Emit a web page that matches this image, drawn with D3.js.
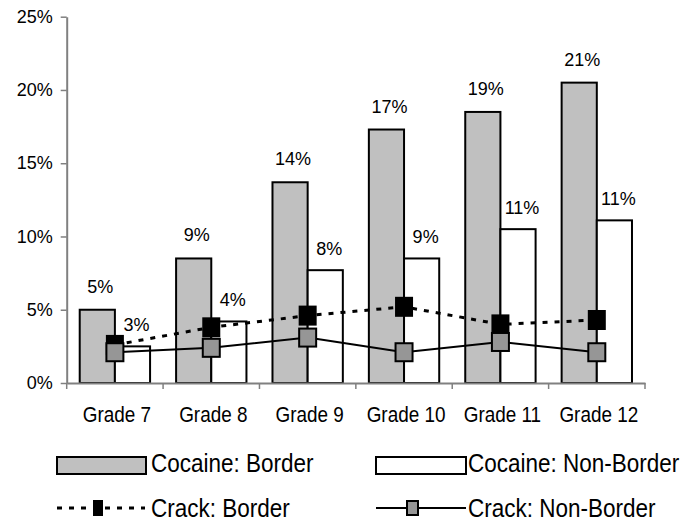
<!DOCTYPE html>
<html>
<head>
<meta charset="utf-8">
<script src="https://cdn.jsdelivr.net/npm/d3@7"></script>
<style>
  body { margin: 0; background: #fff; }
  svg { display: block; font-family: "Liberation Sans", Arial, sans-serif; }
</style>
</head>
<body>
<div id="chart"></div>
<script>

// Data (percent)
var grades = ["Grade 7", "Grade 8", "Grade 9", "Grade 10", "Grade 11", "Grade 12"];
var cocaineBorder = [5.0, 8.5, 13.7, 17.3, 18.5, 20.5];
var cocaineNonBorder = [2.5, 4.2, 7.7, 8.5, 10.5, 11.1];
var crackBorder = [2.6, 3.8, 4.6, 5.2, 4.0, 4.3];
var crackNonBorder = [2.1, 2.4, 3.1, 2.1, 2.8, 2.1];
var cocaineBorderLabels = ["5%", "9%", "14%", "17%", "19%", "21%"];
var cocaineNonBorderLabels = ["3%", "4%", "8%", "9%", "11%", "11%"];
var yTicks = [0, 5, 10, 15, 20, 25];

var width = 684,
    height = 525;

var svg = d3.select("#chart")
    .append("svg")
    .attr("width", width)
    .attr("height", height);

svg.append("rect")
    .attr("width", width)
    .attr("height", height)
    .attr("fill", "#fff");

var x = d3.scaleBand()
    .domain(grades)
    .range([66.7, 645])
    .padding(0);

// two bars inside each grade
var sub = d3.scaleBand()
    .domain(["border", "nonBorder"])
    .range([0, x.bandwidth()])
    .paddingInner(0)
    .paddingOuter(0.37);

var y = d3.scaleLinear()
    .domain([0, 25])
    .range([383, 16.7]);

function cx(i) { return x(grades[i]) + x.bandwidth() / 2; }

/**
 * Bars
 */
var groups = svg.selectAll("g.grade")
    .data(grades)
    .enter()
    .append("g")
    .attr("class", "grade")
    .attr("transform", function(d) { return "translate(" + x(d) + ",0)"; });

groups.append("rect")
    .attr("x", sub("border"))
    .attr("width", sub.bandwidth())
    .attr("y", function(d, i) { return y(cocaineBorder[i]); })
    .attr("height", function(d, i) { return y(0) - y(cocaineBorder[i]); })
    .attr("fill", "#c0c0c0")
    .attr("stroke", "#000")
    .attr("stroke-width", 2);

groups.append("rect")
    .attr("x", sub("nonBorder"))
    .attr("width", sub.bandwidth())
    .attr("y", function(d, i) { return y(cocaineNonBorder[i]); })
    .attr("height", function(d, i) { return y(0) - y(cocaineNonBorder[i]); })
    .attr("fill", "#fff")
    .attr("stroke", "#000")
    .attr("stroke-width", 2);

//bar labels
groups.append("text")
    .attr("x", sub("border") + sub.bandwidth() / 2 + 3)
    .attr("y", function(d, i) { return y(cocaineBorder[i]) - 17; })
    .attr("text-anchor", "middle")
    .attr("font-size", 18)
    .attr("fill", "#000")
    .text(function(d, i) { return cocaineBorderLabels[i]; });

groups.append("text")
    .attr("x", sub("nonBorder") + sub.bandwidth() / 2 + 4)
    .attr("y", function(d, i) { return y(cocaineNonBorder[i]) - 15; })
    .attr("text-anchor", "middle")
    .attr("font-size", 18)
    .attr("fill", "#000")
    .text(function(d, i) { return cocaineNonBorderLabels[i]; });

/**
 * Axes
 */
var yAxis = svg.append("g")
    .attr("transform", "translate(66.7,0)")
    .call(d3.axisLeft(y).tickValues(yTicks).tickSize(6).tickSizeOuter(0).tickPadding(8)
        .tickFormat(function(d) { return d + "%"; }));
yAxis.select(".domain").attr("stroke", "#808080").attr("stroke-width", 2);
yAxis.selectAll(".tick line").attr("stroke", "#808080").attr("stroke-width", 1.5);
yAxis.selectAll(".tick text")
    .attr("font-size", 18)
    .attr("font-family", "Liberation Sans, Arial, sans-serif")
    .attr("fill", "#000");

var xAxis = svg.append("g")
    .attr("transform", "translate(0,383)")
    .call(d3.axisBottom(x).tickSize(0).tickSizeOuter(0));
xAxis.select(".domain").attr("stroke", "#808080").attr("stroke-width", 2);
xAxis.selectAll(".tick text")
    .attr("y", 39)
    .attr("dy", 0)
    .attr("font-size", 22)
    .attr("font-family", "Liberation Sans, Arial, sans-serif")
    .attr("fill", "#000")
    .attr("transform", "translate(2,0) scale(0.86,1)");

// tick marks between categories
var bounds = grades.map(function(g) { return x(g); }).concat([x.range()[1]]);
xAxis.selectAll("line.bound")
    .data(bounds)
    .enter()
    .append("line")
    .attr("class", "bound")
    .attr("x1", function(d) { return d; })
    .attr("x2", function(d) { return d; })
    .attr("y1", 0)
    .attr("y2", 6)
    .attr("stroke", "#808080")
    .attr("stroke-width", 1.5);

/**
 * Crack lines with square markers
 */
var line = d3.line()
    .x(function(d, i) { return cx(i); })
    .y(function(d) { return y(d); });

svg.append("path")
    .datum(crackBorder)
    .attr("d", line)
    .attr("fill", "none")
    .attr("stroke", "#000")
    .attr("stroke-width", 3)
    .attr("stroke-dasharray", "5,7");

svg.selectAll("rect.crackBorder")
    .data(crackBorder)
    .enter()
    .append("rect")
    .attr("class", "crackBorder")
    .attr("x", function(d, i) { return cx(i) - 9; })
    .attr("y", function(d) { return y(d) - 10; })
    .attr("width", 18)
    .attr("height", 20)
    .attr("fill", "#000");

svg.append("path")
    .datum(crackNonBorder)
    .attr("d", line)
    .attr("fill", "none")
    .attr("stroke", "#000")
    .attr("stroke-width", 2);

svg.selectAll("rect.crackNonBorder")
    .data(crackNonBorder)
    .enter()
    .append("rect")
    .attr("class", "crackNonBorder")
    .attr("x", function(d, i) { return cx(i) - 8.5; })
    .attr("y", function(d) { return y(d) - 9; })
    .attr("width", 17)
    .attr("height", 18)
    .attr("fill", "#969696")
    .attr("stroke", "#000")
    .attr("stroke-width", 2);

/**
 * Legend
 */
var legend = svg.append("g");

function legendText(xp, yp, label) {
    legend.append("text")
        .attr("transform", "translate(" + xp + "," + yp + ") scale(0.9,1)")
        .attr("font-size", 25)
        .attr("fill", "#000")
        .text(label);
}

legend.append("rect")
    .attr("x", 57).attr("y", 457).attr("width", 89).attr("height", 17)
    .attr("fill", "#c0c0c0").attr("stroke", "#000").attr("stroke-width", 2);
legendText(151, 472, "Cocaine: Border");

legend.append("rect")
    .attr("x", 376).attr("y", 457).attr("width", 90).attr("height", 17)
    .attr("fill", "#fff").attr("stroke", "#000").attr("stroke-width", 2);
legendText(468, 472, "Cocaine: Non-Border");

legend.append("line")
    .attr("x1", 57).attr("x2", 145).attr("y1", 508).attr("y2", 508)
    .attr("stroke", "#000").attr("stroke-width", 3).attr("stroke-dasharray", "5,7");
legend.append("rect")
    .attr("x", 93).attr("y", 500).attr("width", 10).attr("height", 16)
    .attr("fill", "#000");
legendText(151, 517, "Crack: Border");

legend.append("line")
    .attr("x1", 376).attr("x2", 466).attr("y1", 508).attr("y2", 508)
    .attr("stroke", "#000").attr("stroke-width", 2);
legend.append("rect")
    .attr("x", 407).attr("y", 501).attr("width", 11).attr("height", 14)
    .attr("fill", "#969696").attr("stroke", "#000").attr("stroke-width", 2);
legendText(468, 517, "Crack: Non-Border");

</script>
</body>
</html>
